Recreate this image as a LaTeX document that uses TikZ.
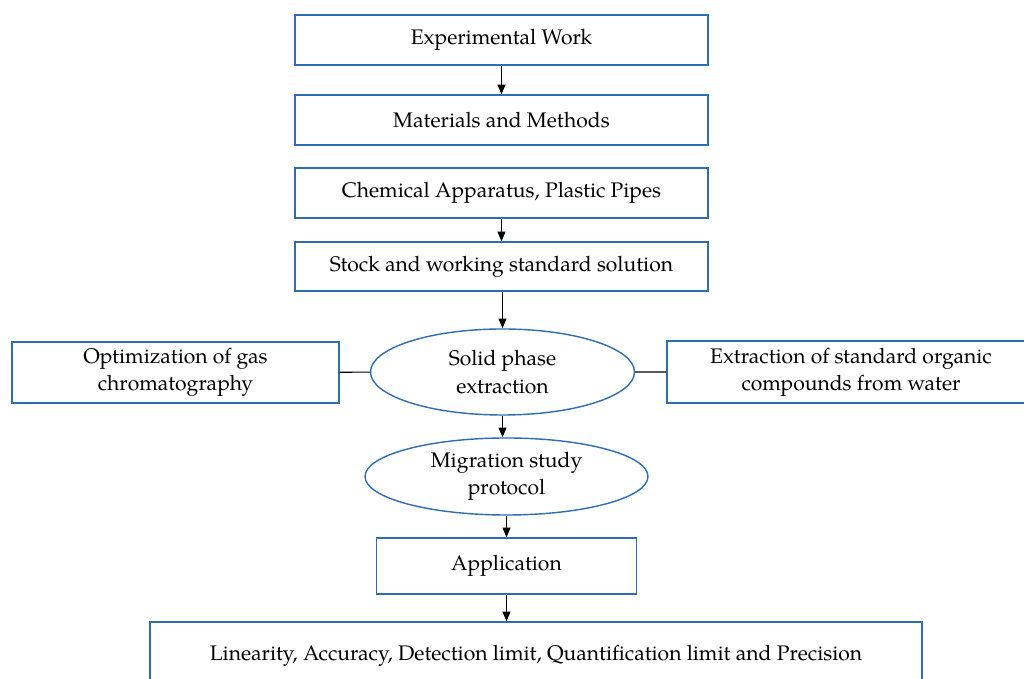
\documentclass[tikz,border=0pt]{standalone}
\usepackage{fontspec}
\setmainfont{texgyrepagella}[Extension=.otf,UprightFont=*-regular,BoldFont=*-bold,ItalicFont=*-italic]
\usepackage{tikz}
\usetikzlibrary{arrows.meta,shapes.geometric}
\definecolor{boxColor}{HTML}{2E6DB4}
\begin{document}
\begin{tikzpicture}[
stepBox/.style={shape=rectangle,draw=boxColor,line width=0.8pt,inner sep=0,align=center,font=\fontsize{12}{15.5}\selectfont},
ovalNode/.style={shape=ellipse,draw=boxColor,line width=0.8pt,inner sep=0,align=center,font=\fontsize{12}{15.5}\selectfont},
myarrow/.style={-{Triangle[length=5.5pt,width=4.5pt]},line width=0.6pt},
myline/.style={line width=0.6pt}
]
\useasboundingbox (0,0) rectangle (20.48,-13.58);
\node[stepBox,minimum width=8.26cm,minimum height=1.0cm] (ew) at (10.03,-0.80) {Experimental Work};
\node[stepBox,minimum width=8.26cm,minimum height=1.0cm] (mm) at (10.03,-2.40) {Materials and Methods};
\node[stepBox,minimum width=8.26cm,minimum height=1.0cm] (ca) at (10.03,-3.86) {Chemical Apparatus, Plastic Pipes};
\node[stepBox,minimum width=8.26cm,minimum height=0.98cm] (sw) at (10.03,-5.33) {Stock and working standard solution};
\node[stepBox,minimum width=6.54cm,minimum height=1.22cm] (gc) at (3.51,-7.45) {Optimization of gas\\chromatography};
\node[ovalNode,minimum width=5.28cm,minimum height=1.72cm] (spe) at (10.05,-7.44) {Solid phase\\extraction};
\node[stepBox,minimum width=7.36cm,minimum height=1.24cm] (ext) at (17.02,-7.44) {Extraction of standard organic\\compounds from water};
\node[ovalNode,minimum width=5.66cm,minimum height=1.54cm] (msp) at (10.13,-9.53) {Migration study\\protocol};
\node[stepBox,minimum width=5.2cm,minimum height=1.12cm] (app) at (10.13,-11.32) {Application};
\node[stepBox,minimum width=15.44cm,minimum height=1.36cm] (lin) at (10.72,-13.12) {Linearity, Accuracy, Detection limit, Quantification limit and Precision};
\draw[myarrow] (ew) -- (mm);
\draw[myarrow] (ca) -- (sw);
\draw[myarrow] (spe.north |- sw.south) -- (spe.north);
\draw[myarrow] (spe.south) -- (spe.south |- msp.north);
\draw[myarrow] (msp) -- (app);
\draw[myarrow] (app.south) -- (app.south |- lin.north);
\draw[myline] (gc) -- (spe) (spe) -- (ext);
\end{tikzpicture}
\end{document}
